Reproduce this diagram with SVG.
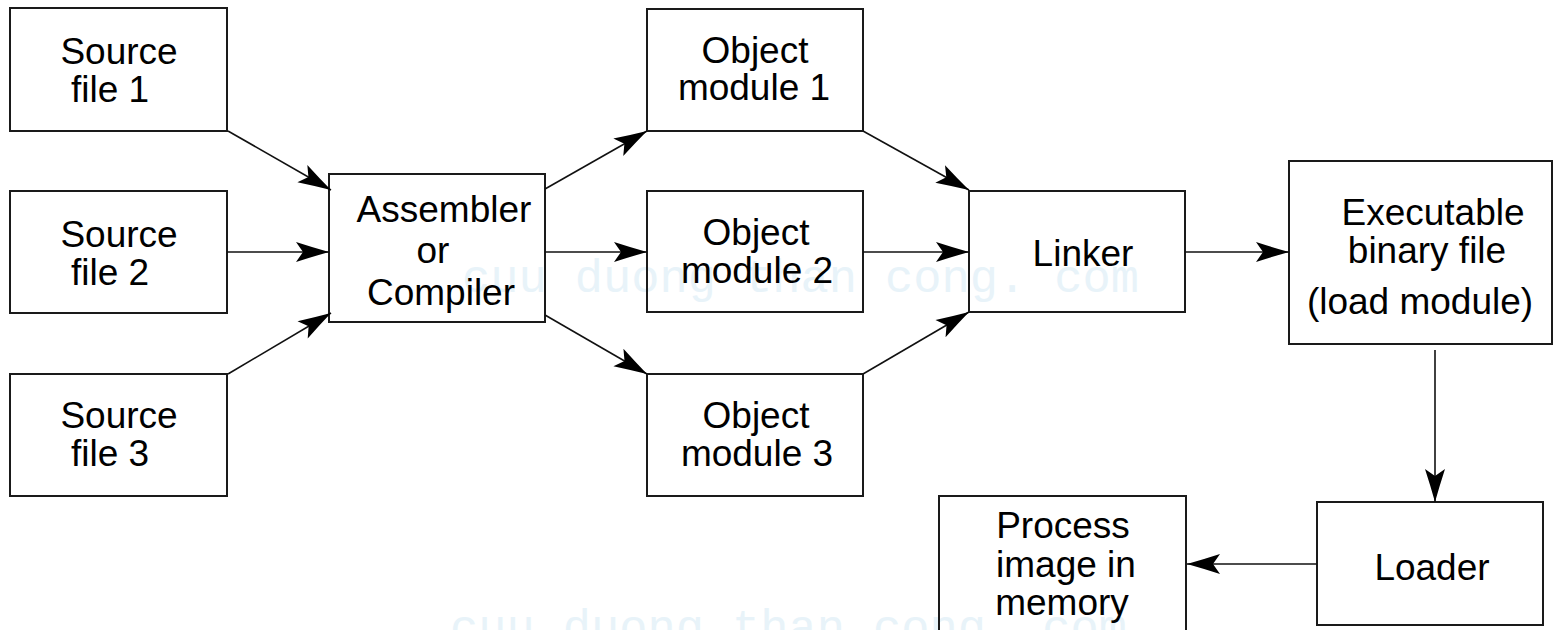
<svg xmlns="http://www.w3.org/2000/svg" width="1553" height="630" viewBox="0 0 1553 630">
<style>
.box{fill:none;stroke:#1a1a1a;stroke-width:2}
.lbl{font-family:"Liberation Sans",Arial,sans-serif;font-size:37px;fill:#000;text-anchor:middle}
.wm{font-family:"Liberation Mono","DejaVu Sans Mono",monospace;font-size:47px;fill:#e8f3f9}
.cn{fill:none;stroke:#111;stroke-width:1.6}
</style>
<defs>
<marker id="ah" markerUnits="userSpaceOnUse" markerWidth="40" markerHeight="26" viewBox="-36 -13 40 26" refX="0" refY="0" orient="auto">
<path d="M0,0 Q-16,-4.5 -33,-10 L-26,0 L-33,10 Q-16,4.5 0,0 Z" fill="#000"/>
</marker>
</defs>
<rect width="1553" height="630" fill="#fff"/>
<g id="watermark">
<text class="wm" x="462" y="292">cuu duong than cong. com</text>
<text class="wm" x="450" y="642">cuu duong than cong. com</text>
</g>
<g id="source1"><rect class="box" x="10" y="8" width="217" height="123"/><text class="lbl" x="119" y="64">Source</text><text class="lbl" x="110" y="102">file 1</text></g>
<g id="source2"><rect class="box" x="10" y="191" width="217" height="122"/><text class="lbl" x="119" y="247">Source</text><text class="lbl" x="110" y="285">file 2</text></g>
<g id="source3"><rect class="box" x="10" y="374" width="217" height="122"/><text class="lbl" x="119" y="428">Source</text><text class="lbl" x="110" y="466">file 3</text></g>
<g id="assembler"><rect class="box" x="329" y="174" width="216" height="148"/><text class="lbl" x="444" y="222">Assembler</text><text class="lbl" x="433" y="263">or</text><text class="lbl" x="441" y="305">Compiler</text></g>
<g id="obj1"><rect class="box" x="647" y="9" width="216" height="122"/><text class="lbl" x="755" y="63">Object</text><text class="lbl" x="754" y="100">module 1</text></g>
<g id="obj2"><rect class="box" x="647" y="191" width="216" height="121"/><text class="lbl" x="756" y="245">Object</text><text class="lbl" x="757" y="283">module 2</text></g>
<g id="obj3"><rect class="box" x="647" y="374" width="216" height="122"/><text class="lbl" x="756" y="428">Object</text><text class="lbl" x="757" y="466">module 3</text></g>
<g id="linker"><rect class="box" x="969" y="191" width="216" height="121"/><text class="lbl" x="1083" y="266">Linker</text></g>
<g id="executable"><rect class="box" x="1289" y="161" width="263" height="183"/><text class="lbl" x="1433" y="225">Executable</text><text class="lbl" x="1427" y="263">binary file</text><text class="lbl" x="1420" y="314">(load module)</text></g>
<g id="loader"><rect class="box" x="1317" y="502" width="226" height="123"/><text class="lbl" x="1432" y="580">Loader</text></g>
<g id="process"><rect class="box" x="939" y="496" width="247" height="140"/><text class="lbl" x="1063" y="538">Process</text><text class="lbl" x="1066" y="577">image in</text><text class="lbl" x="1062" y="615">memory</text></g>
<g id="connectors">
<line class="cn" x1="228" y1="131" x2="331" y2="190" marker-end="url(#ah)"/>
<line class="cn" x1="227" y1="252" x2="329" y2="252" marker-end="url(#ah)"/>
<line class="cn" x1="228" y1="374" x2="331" y2="313" marker-end="url(#ah)"/>
<line class="cn" x1="545" y1="189" x2="647" y2="131" marker-end="url(#ah)"/>
<line class="cn" x1="545" y1="252" x2="647" y2="252" marker-end="url(#ah)"/>
<line class="cn" x1="545" y1="315" x2="647" y2="374" marker-end="url(#ah)"/>
<line class="cn" x1="863" y1="131" x2="969" y2="190" marker-end="url(#ah)"/>
<line class="cn" x1="863" y1="252" x2="969" y2="252" marker-end="url(#ah)"/>
<line class="cn" x1="863" y1="374" x2="969" y2="312" marker-end="url(#ah)"/>
<line class="cn" x1="1185" y1="252" x2="1289" y2="252" marker-end="url(#ah)"/>
<line class="cn" x1="1435" y1="350" x2="1435" y2="502" marker-end="url(#ah)"/>
<line class="cn" x1="1317" y1="564" x2="1187" y2="564" marker-end="url(#ah)"/>
</g>
</svg>
